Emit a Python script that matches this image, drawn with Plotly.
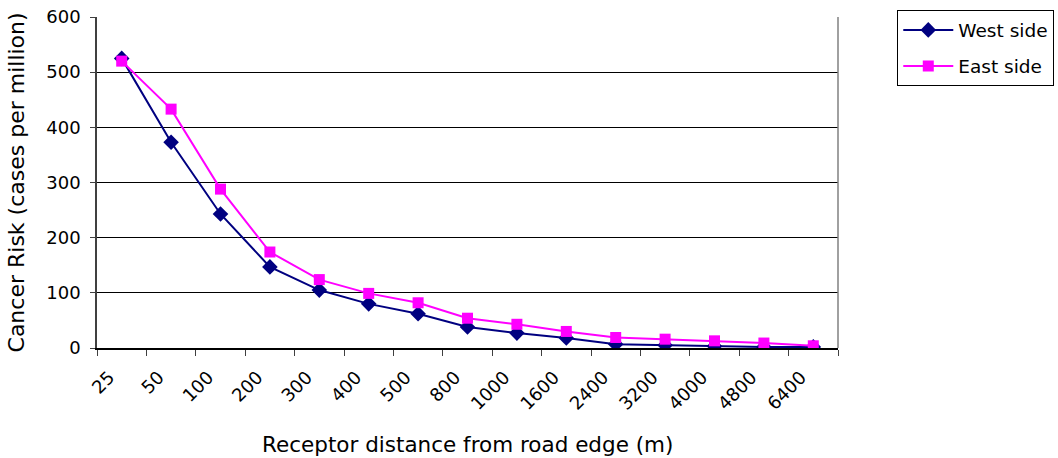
import numpy as np
import plotly.graph_objects as go

# Receptor distances from the road edge (m)
distances = ["25", "50", "100", "200", "300", "400", "500", "800", "1000",
             "1600", "2400", "3200", "4000", "4800", "6400"]

# Cancer risk, cases per million
west_side = [525, 373, 243, 147, 105, 80, 62, 38, 27, 18, 7, 5, 3, 2, 2]
east_side = [520, 433, 288, 174, 124, 99, 82, 54, 43, 30, 19, 16, 13, 9, 4]

y_ticks = [0, 100, 200, 300, 400, 500, 600]

# Points sit midway between the boundary tick marks
idx = np.arange(len(distances))
x_pos = idx + 0.5
label_pos = idx + 0.25

FONT = "DejaVu Sans, Arial, sans-serif"

fig = go.Figure()
fig.add_trace(go.Scatter(
    x=x_pos, y=west_side, name="West side", mode="lines+markers",
    legendgroup="w",
    line=dict(color="#000080", width=2),
    marker=dict(symbol="diamond", size=12, color="#000080"),
))
fig.add_trace(go.Scatter(
    x=x_pos, y=east_side, name="East side", mode="lines+markers",
    legendgroup="e",
    line=dict(color="#FF00FF", width=2),
    marker=dict(symbol="square", size=11, color="#FF00FF"),
))

fig.update_layout(
    width=1058, height=458,
    margin=dict(l=97, r=220, t=17, b=110, autoexpand=False),
    paper_bgcolor="white", plot_bgcolor="white",
    font=dict(family=FONT, size=18, color="black"),
    showlegend=True,
    legend=dict(
        x=1.08, y=1.02, xanchor="left", yanchor="top",
        bordercolor="black", borderwidth=1,
        font=dict(size=18.5), tracegroupgap=9, itemwidth=50,
    ),
    xaxis=dict(
        range=[0, len(distances)],
        tickmode="array",
        tickvals=label_pos,
        ticktext=distances,
        tickangle=-45,
        ticks="outside", ticklen=6, tickcolor="rgba(0,0,0,0)",
        ticklabelstandoff=4,
        minor=dict(tick0=0, dtick=1, ticks="outside", ticklen=6,
                   tickcolor="#404040", showgrid=False),
        showline=True, linecolor="black", linewidth=1.5,
        showgrid=False, zeroline=False, automargin=False,
    ),
    yaxis=dict(
        range=[0, 600],
        tickmode="array", tickvals=y_ticks,
        ticks="outside", ticklen=5, tickcolor="#404040",
        showline=True, linecolor="#404040", linewidth=1.5,
        showgrid=True, gridcolor="black", gridwidth=1,
        zeroline=False, automargin=False,
        ticklabelstandoff=6,
    ),
)

# Axis titles
fig.add_annotation(text="Cancer Risk (cases per million)", textangle=-90,
                   xref="paper", yref="paper", x=-0.108, y=0.5,
                   xanchor="center", yanchor="middle", showarrow=False,
                   font=dict(size=22))
fig.add_annotation(text="Receptor distance from road edge (m)",
                   xref="paper", yref="paper", x=0.5, y=-0.293,
                   xanchor="center", yanchor="middle", showarrow=False,
                   font=dict(size=21.5))

# Thin grey frame on the right edge of the plotting area
fig.add_shape(type="line", xref="paper", yref="paper",
              x0=1, x1=1, y0=0, y1=1, line=dict(color="#808080", width=1.5))

fig.write_html("out.html")
